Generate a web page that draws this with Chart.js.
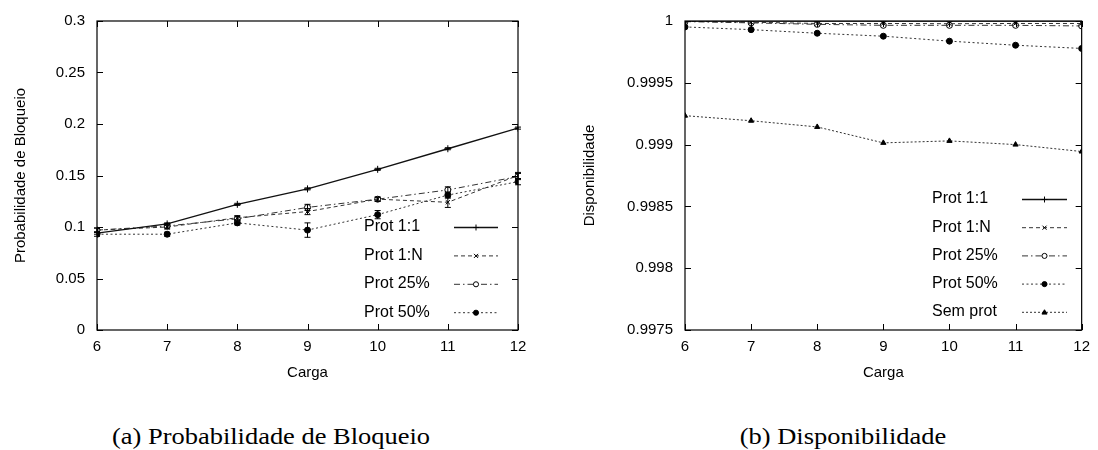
<!DOCTYPE html>
<html><head><meta charset="utf-8">
<script src="https://cdn.jsdelivr.net/npm/chart.js@4.4.0/dist/chart.umd.min.js"></script>
<style>
html,body{margin:0;padding:0;background:#fff;width:1098px;height:450px;overflow:hidden}
.c{position:absolute;top:0}
.cap{position:absolute;font-family:"Liberation Serif","DejaVu Serif",serif;font-size:23px;line-height:26px;color:#000;white-space:nowrap;transform:translateX(-50%) scaleX(1.15)}
</style></head><body>
<div class="c" style="left:0;width:549px;height:382px"><canvas id="a"></canvas></div>
<div class="c" style="left:549px;width:549px;height:382px"><canvas id="b"></canvas></div>
<div class="cap" style="left:271px;top:424px">(a) Probabilidade de Bloqueio</div>
<div class="cap" style="left:843px;top:424px">(b) Disponibilidade</div>
<script>
// ---- data ----
const cargas = [6, 7, 8, 9, 10, 11, 12];

// (a) Probabilidade de Bloqueio
const bloqProt11  = [0.094, 0.103, 0.122, 0.137, 0.156, 0.176, 0.196];
const bloqProt1N  = [0.097, 0.100, 0.109, 0.115, 0.127, 0.124, 0.150];
const bloqProt25  = [0.097, 0.101, 0.108, 0.119, 0.127, 0.136, 0.149];
const bloqProt50  = [0.093, 0.093, 0.104, 0.097, 0.112, 0.131, 0.144];
const errProt11   = [0.001, 0.001, 0.001, 0.001, 0.001, 0.001, 0.001];
const errProt1N   = [0.002, 0.002, 0.002, 0.003, 0.002, 0.005, 0.003];
const errProt25   = [0.002, 0.002, 0.002, 0.003, 0.002, 0.003, 0.003];
const errProt50   = [0.002, 0.002, 0.002, 0.007, 0.004, 0.003, 0.003];
const bloqTicks   = [0, 0.05, 0.1, 0.15, 0.2, 0.25, 0.3];

// (b) Disponibilidade
const dispProt11  = [1.0, 1.0, 1.0, 1.0, 1.0, 1.0, 1.0];
const dispProt1N  = [0.999998, 0.99999, 0.99998, 0.99998, 0.999978, 0.99998, 0.99998];
const dispProt25  = [0.999995, 0.999985, 0.999973, 0.999965, 0.999965, 0.999965, 0.99996];
const dispProt50  = [0.999952, 0.99993, 0.999901, 0.999877, 0.999837, 0.999804, 0.999778];
const dispSemProt = [0.999234, 0.999193, 0.999143, 0.999014, 0.99903, 0.999, 0.998944];
const dispTicks   = [0.9975, 0.998, 0.9985, 0.999, 0.9995, 1];

const labels = ['Prot 1:1', 'Prot 1:N', 'Prot 25%', 'Prot 50%', 'Sem prot'];

// ---- styles ----
const FONT = '"Liberation Sans", Arial, Helvetica, sans-serif';
const styles = [
  {dash: [], marker: 'cross', r: 3.5, fill: '#000', bw: 1.4, color: '#111'},
  {dash: [4, 3], marker: 'crossRot', r: 3, fill: '#000', bw: 1, color: '#333'},
  {dash: [6, 3, 1.5, 3], marker: 'circle', r: 3, fill: '#fff', bw: 1, color: '#333'},
  {dash: [2, 2.5], marker: 'circle', r: 3, fill: '#000', bw: 1, color: '#333'},
  {dash: [2, 2], marker: 'triangle', r: 3, fill: '#000', bw: 1, color: '#333'}
];

function pts(arr) { return cargas.map((c, i) => ({x: c, y: arr[i]})); }
function ds(i, arr, err) {
  const s = styles[i];
  return {
    label: labels[i], data: pts(arr), errors: err,
    borderColor: s.color, backgroundColor: s.fill, borderWidth: s.bw,
    borderDash: s.dash, pointStyle: s.marker, pointRadius: s.r,
    pointBorderColor: '#000', pointBackgroundColor: s.fill, pointBorderWidth: 1,
    tension: 0, fill: false, _st: s
  };
}

function drawMarker(ctx, s, x, y) {
  ctx.save();
  ctx.setLineDash([]);
  ctx.strokeStyle = '#000'; ctx.fillStyle = s.fill; ctx.lineWidth = 1;
  const r = s.r * 0.85;
  ctx.beginPath();
  if (s.marker === 'cross') { ctx.moveTo(x - r, y); ctx.lineTo(x + r, y); ctx.moveTo(x, y - r); ctx.lineTo(x, y + r); ctx.stroke(); }
  else if (s.marker === 'crossRot') { const d = r * 0.8; ctx.moveTo(x - d, y - d); ctx.lineTo(x + d, y + d); ctx.moveTo(x + d, y - d); ctx.lineTo(x - d, y + d); ctx.stroke(); }
  else if (s.marker === 'circle') { ctx.arc(x, y, r, 0, Math.PI * 2); ctx.fill(); ctx.stroke(); }
  else if (s.marker === 'triangle') { ctx.moveTo(x, y - r); ctx.lineTo(x + r, y + r * 0.7); ctx.lineTo(x - r, y + r * 0.7); ctx.closePath(); ctx.fill(); ctx.stroke(); }
  ctx.restore();
}

const gnuplotLook = {
  id: 'gnuplotLook',
  afterDatasetsDraw(chart, args, opts) {
    const ctx = chart.ctx, xs = chart.scales.x, ys = chart.scales.y;
    // error bars
    chart.data.datasets.forEach(d => {
      if (!d.errors) return;
      ctx.save(); ctx.strokeStyle = '#000'; ctx.lineWidth = 1; ctx.setLineDash([]);
      d.data.forEach((p, i) => {
        const e = d.errors[i]; if (!e) return;
        const x = xs.getPixelForValue(p.x), y1 = ys.getPixelForValue(p.y - e), y2 = ys.getPixelForValue(p.y + e);
        ctx.beginPath(); ctx.moveTo(x, y1); ctx.lineTo(x, y2);
        ctx.moveTo(x - 3, y1); ctx.lineTo(x + 3, y1); ctx.moveTo(x - 3, y2); ctx.lineTo(x + 3, y2);
        ctx.stroke();
      });
      ctx.restore();
    });
  },
  afterDraw(chart, args, opts) {
    const ctx = chart.ctx, a = chart.chartArea, xs = chart.scales.x, ys = chart.scales.y;
    ctx.save();
    ctx.strokeStyle = '#000'; ctx.lineWidth = 1.2; ctx.setLineDash([]);
    ctx.strokeRect(a.left, a.top, a.right - a.left, a.bottom - a.top);
    ctx.lineWidth = 1;
    ctx.beginPath();
    xs.ticks.forEach(t => {
      const x = Math.round(xs.getPixelForValue(t.value)) + 0.5;
      ctx.moveTo(x, a.bottom); ctx.lineTo(x, a.bottom - 6);
      ctx.moveTo(x, a.top); ctx.lineTo(x, a.top + 6);
    });
    ys.ticks.forEach(t => {
      const y = Math.round(ys.getPixelForValue(t.value)) + 0.5;
      ctx.moveTo(a.left, y); ctx.lineTo(a.left + 6, y);
      ctx.moveTo(a.right, y); ctx.lineTo(a.right - 6, y);
    });
    ctx.stroke();
    // legend
    const L = opts.legend;
    ctx.font = '16px ' + FONT; ctx.fillStyle = '#000'; ctx.textBaseline = 'middle'; ctx.textAlign = 'left';
    chart.data.datasets.forEach((d, i) => {
      const y = L.y0 + i * L.dy, s = d._st;
      ctx.fillText(d.label, L.textX, y);
      ctx.save();
      ctx.strokeStyle = s.color; ctx.lineWidth = s.bw; ctx.setLineDash(s.dash);
      ctx.beginPath(); ctx.moveTo(L.sx1, y + 0.5); ctx.lineTo(L.sx2, y + 0.5); ctx.stroke();
      ctx.restore();
      drawMarker(ctx, s, (L.sx1 + L.sx2) / 2, y + 0.5);
    });
    ctx.restore();
  }
};

function fmt(v) { return String(+(+v).toFixed(4)); }

function makeChart(id, datasets, ymin, ymax, ytitle, yw, titlePad, padRight, legend, yTicksArr) {
  return new Chart(document.getElementById(id), {
    type: 'line',
    data: {datasets},
    plugins: [gnuplotLook],
    options: {
      responsive: true, maintainAspectRatio: false, animation: false,
      layout: {padding: {left: 0, right: padRight, top: 19, bottom: 0}},
      plugins: {legend: {display: false}, tooltip: {enabled: false}, gnuplotLook: {legend}},
      scales: {
        x: {
          type: 'linear', min: cargas[0], max: cargas[cargas.length - 1],
          afterBuildTicks: s => { s.ticks = cargas.map(v => ({value: v})); },
          ticks: {font: {family: FONT, size: 15}, color: '#000', padding: 8, callback: v => String(v), maxRotation: 0},
          grid: {display: false, drawTicks: false}, border: {display: false},
          title: {display: true, text: 'Carga', font: {family: FONT, size: 15}, color: '#000', padding: 0},
          afterFit: s => { s.height = 52; }
        },
        y: {
          type: 'linear', min: ymin, max: ymax,
          afterBuildTicks: s => { s.ticks = yTicksArr.map(v => ({value: v})); },
          ticks: {font: {family: FONT, size: 15}, color: '#000', padding: 12, callback: v => fmt(v)},
          grid: {display: false, drawTicks: false}, border: {display: false},
          title: {display: true, text: ytitle, font: {family: FONT, size: 15}, color: '#000', padding: {top: titlePad, bottom: 0}},
          afterFit: s => { s.width = yw; }
        }
      }
    }
  });
}

makeChart('a', [
  ds(0, bloqProt11, errProt11), ds(1, bloqProt1N, errProt1N),
  ds(2, bloqProt25, errProt25), ds(3, bloqProt50, errProt50)
], 0, 0.3, 'Probabilidade de Bloqueio', 97, 12, 31,
  {textX: 364, sx1: 454, sx2: 498, y0: 227, dy: 28.4}, bloqTicks);

makeChart('b', [
  ds(0, dispProt11), ds(1, dispProt1N), ds(2, dispProt25),
  ds(3, dispProt50), ds(4, dispSemProt)
], 0.9975, 1, 'Disponibilidade', 136, 32, 11,
  {textX: 383, sx1: 473, sx2: 518, y0: 199, dy: 28.2}, dispTicks);
</script>
</body></html>
